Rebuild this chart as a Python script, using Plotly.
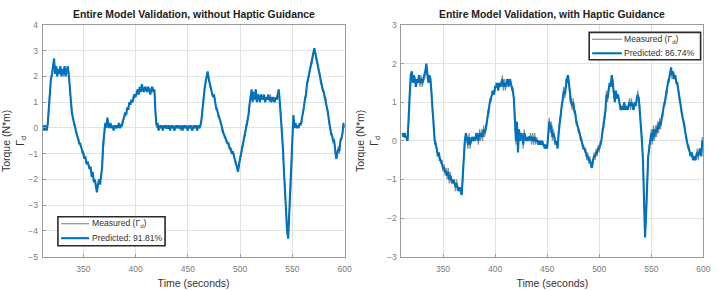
import plotly.graph_objects as go

# Time axis (seconds), one sample per second
time_s = list(range(311, 601))

# Left panel: without haptic guidance
left_measured = [
    0.0, 0.1, -0.1, 0.1, 0.0, 0.1, 0.9, 1.4, 2.0, 2.0,
    2.3, 2.6, 2.2, 2.3, 2.1, 2.2, 2.2, 2.3, 2.1, 2.2,
    2.0, 2.3, 2.1, 2.1, 2.3, 2.0, 1.7, 1.1, 0.7, 0.3,
    0.1, 0.1, -0.2, -0.2, -0.5, -0.5, -0.7, -0.7, -1.0, -0.9,
    -1.1, -1.2, -1.3, -1.4, -1.4, -1.5, -1.6, -1.8, -1.8, -2.0,
    -2.1, -2.2, -2.4, -2.3, -2.1, -2.1, -1.9, -1.4, -0.7, -0.1,
    0.1, 0.1, 0.3, 0.0, 0.1, 0.1, 0.1, 0.0, 0.0, 0.0,
    0.1, 0.0, 0.1, 0.1, 0.1, 0.0, 0.2, 0.2, 0.5, 0.5,
    0.6, 0.7, 0.8, 0.9, 1.0, 1.0, 1.1, 1.1, 1.2, 1.3,
    1.3, 1.4, 1.4, 1.5, 1.5, 1.6, 1.4, 1.5, 1.5, 1.6,
    1.5, 1.5, 1.4, 1.4, 1.6, 1.5, 1.5, 1.4, 0.7, 0.0,
    0.1, 0.0, 0.0, 0.1, 0.0, 0.0, 0.0, 0.1, 0.0, 0.1,
    0.1, 0.0, 0.0, 0.0, 0.1, 0.0, 0.0, 0.1, 0.0, 0.1,
    0.0, 0.1, -0.1, 0.0, 0.0, 0.0, 0.1, 0.0, 0.1, 0.0,
    0.0, 0.1, 0.0, 0.0, 0.1, 0.0, 0.1, 0.0, 0.0, 0.0,
    0.1, 0.0, 0.4, 0.8, 1.2, 1.6, 1.7, 2.1, 2.1, 2.0,
    1.6, 1.6, 1.3, 1.3, 1.2, 1.1, 0.7, 0.8, 0.4, 0.5,
    0.2, 0.2, -0.2, -0.1, -0.4, -0.3, -0.6, -0.5, -0.7, -0.7,
    -0.9, -0.9, -1.0, -1.0, -1.3, -1.3, -1.6, -1.6, -1.5, -1.1,
    -1.1, -0.7, -0.7, -0.3, -0.3, 0.1, 0.1, 0.6, 0.8, 1.3,
    1.4, 1.1, 1.3, 1.2, 1.4, 1.1, 1.2, 1.3, 1.1, 1.2,
    1.1, 1.2, 1.2, 1.1, 1.1, 1.2, 1.2, 1.0, 1.3, 1.1,
    1.1, 1.2, 1.1, 1.1, 1.2, 1.2, 1.4, 1.1, 0.6, -0.1,
    -0.9, -1.6, -2.8, -3.4, -4.1, -4.2, -3.4, -2.3, -1.9, -0.4,
    0.4, 0.1, 0.1, 0.1, 0.0, 0.1, 0.1, 0.2, 0.2, 0.6,
    0.7, 1.2, 1.2, 1.8, 1.8, 2.1, 2.2, 2.5, 2.5, 2.9,
    3.0, 3.0, 2.6, 2.6, 2.2, 2.2, 1.7, 1.7, 1.4, 1.5,
    1.1, 1.2, 0.7, 0.7, 0.2, 0.1, -0.3, -0.2, -0.6, -0.4,
    -1.0, -1.1, -1.1, -0.7, -1.0, -0.4, -0.5, -0.1, 0.1, 0.1,
]
left_predicted = [
    0.1, -0.1, 0.1, 0.0, -0.1, 0.2, 0.8, 1.5, 1.9, 2.1,
    2.4, 2.7, 2.1, 2.4, 2.0, 2.3, 2.1, 2.4, 2.0, 2.3,
    2.1, 2.4, 2.0, 2.2, 2.4, 2.1, 1.6, 1.0, 0.6, 0.4,
    0.2, 0.0, -0.1, -0.3, -0.4, -0.6, -0.6, -0.8, -0.9, -1.0,
    -1.2, -1.1, -1.4, -1.3, -1.5, -1.6, -1.5, -1.9, -1.7, -2.1,
    -2.0, -2.3, -2.5, -2.2, -2.0, -2.2, -1.8, -1.5, -0.6, -0.2,
    0.2, 0.0, 0.4, 0.1, 0.0, 0.2, 0.0, 0.1, -0.1, 0.1,
    0.0, 0.1, 0.0, 0.2, 0.0, 0.1, 0.1, 0.3, 0.4, 0.6,
    0.5, 0.8, 0.7, 1.0, 0.9, 1.1, 1.0, 1.2, 1.3, 1.2,
    1.4, 1.5, 1.3, 1.6, 1.4, 1.7, 1.5, 1.4, 1.6, 1.5,
    1.4, 1.6, 1.5, 1.3, 1.5, 1.6, 1.4, 1.5, 0.6, 0.1,
    0.2, -0.1, 0.1, 0.0, 0.1, -0.1, 0.1, 0.0, 0.1, 0.0,
    0.0, 0.1, -0.1, 0.1, 0.0, 0.1, -0.1, 0.0, 0.1, 0.0,
    0.1, 0.0, 0.0, 0.1, -0.1, 0.1, 0.0, 0.1, 0.0, -0.1,
    0.1, 0.0, 0.1, -0.1, 0.0, 0.1, 0.0, 0.1, -0.1, 0.1,
    0.0, 0.1, 0.3, 0.7, 1.3, 1.5, 1.8, 2.0, 2.2, 1.9,
    1.7, 1.5, 1.4, 1.2, 1.3, 1.0, 0.8, 0.7, 0.5, 0.4,
    0.3, 0.1, -0.1, -0.2, -0.3, -0.4, -0.5, -0.6, -0.6, -0.8,
    -0.8, -1.0, -0.9, -1.1, -1.2, -1.4, -1.5, -1.7, -1.4, -1.2,
    -1.0, -0.8, -0.6, -0.4, -0.2, 0.0, 0.2, 0.5, 0.9, 1.2,
    1.5, 1.0, 1.4, 1.1, 1.5, 1.0, 1.3, 1.2, 1.0, 1.3,
    1.2, 1.1, 1.3, 1.0, 1.2, 1.1, 1.3, 1.1, 1.2, 1.0,
    1.2, 1.1, 1.0, 1.2, 1.1, 1.3, 1.5, 1.0, 0.5, 0.0,
    -0.8, -1.7, -2.7, -3.5, -4.0, -4.3, -3.3, -2.4, -1.8, -0.5,
    0.5, 0.0, 0.2, 0.0, 0.1, 0.0, 0.2, 0.1, 0.3, 0.5,
    0.8, 1.1, 1.3, 1.7, 1.9, 2.0, 2.3, 2.4, 2.6, 2.8,
    3.1, 2.9, 2.7, 2.5, 2.3, 2.1, 1.8, 1.6, 1.5, 1.4,
    1.2, 1.1, 0.8, 0.6, 0.3, 0.0, -0.2, -0.3, -0.5, -0.5,
    -0.9, -1.2, -1.0, -0.8, -0.9, -0.5, -0.4, -0.2, 0.2, 0.0,
]

# Right panel: with haptic guidance
right_measured = [
    0.1, 0.2, 0.1, 0.2, 0.0, 0.1, 0.5, 1.4, 1.6, 1.7,
    1.6, 1.6, 1.5, 1.5, 1.5, 1.6, 1.6, 1.4, 1.7, 1.4,
    1.5, 1.6, 1.7, 1.9, 1.6, 1.6, 1.6, 1.5, 1.3, 0.7,
    0.5, -0.1, 0.0, -0.3, -0.3, -0.4, -0.4, -0.6, -0.5, -0.8,
    -0.6, -0.9, -0.7, -1.0, -0.7, -1.1, -0.8, -1.1, -1.0, -1.1,
    -1.0, -1.3, -1.0, -1.3, -1.2, -1.3, -1.2, -1.3, -1.0, -0.3,
    0.1, 0.1, 0.1, -0.2, 0.2, -0.2, 0.1, 0.0, 0.1, 0.0,
    0.1, 0.1, 0.2, -0.1, 0.3, 0.0, 0.3, 0.0, 0.4, 0.1,
    0.4, 0.4, 0.8, 0.7, 1.1, 1.0, 1.3, 1.2, 1.3, 1.3,
    1.5, 1.4, 1.4, 1.4, 1.5, 1.4, 1.7, 1.3, 1.6, 1.3,
    1.6, 1.5, 1.5, 1.5, 1.6, 1.3, 1.4, 1.0, 0.7, -0.1,
    0.4, -0.2, 0.2, 0.1, 0.1, 0.2, -0.2, 0.3, 0.0, 0.1,
    0.0, 0.1, 0.0, 0.2, -0.1, 0.2, -0.1, 0.2, -0.1, 0.1,
    -0.1, 0.0, -0.1, 0.0, -0.1, 0.0, -0.2, -0.1, -0.2, -0.1,
    0.1, 0.6, 0.2, 0.5, 0.0, 0.3, 0.0, 0.0, -0.1, -0.1,
    0.1, 0.6, 0.6, 1.0, 1.0, 1.4, 1.1, 1.6, 1.5, 1.6,
    1.5, 1.0, 1.1, 0.8, 1.1, 0.7, 0.8, 0.4, 0.5, 0.2,
    0.3, 0.0, 0.1, -0.2, -0.1, -0.3, -0.2, -0.5, -0.3, -0.6,
    -0.4, -0.7, -0.6, -0.6, -0.3, -0.5, -0.2, -0.4, -0.1, -0.3,
    0.0, -0.1, 0.3, 0.3, 0.6, 0.7, 1.3, 1.0, 1.4, 1.4,
    1.5, 1.6, 1.6, 1.1, 1.1, 1.2, 1.2, 1.1, 1.1, 0.8,
    0.9, 0.8, 0.9, 0.9, 0.9, 0.8, 0.9, 0.8, 1.1, 0.8,
    1.1, 0.8, 0.9, 0.9, 1.0, 1.0, 1.3, 1.0, 0.9, 0.3,
    0.1, -0.6, -1.4, -2.4, -2.0, -0.9, -0.5, -0.1, 0.0, 0.3,
    -0.1, 0.4, 0.0, 0.4, 0.1, 0.5, 0.2, 0.6, 0.3, 0.7,
    0.6, 1.0, 0.9, 1.3, 1.2, 1.6, 1.5, 1.7, 1.8, 1.6,
    1.7, 1.7, 1.6, 1.6, 1.4, 1.4, 1.0, 1.0, 0.7, 0.7,
    0.4, 0.4, 0.1, 0.1, -0.2, -0.1, -0.4, -0.3, -0.4, -0.4,
    -0.5, -0.4, -0.5, -0.2, -0.5, -0.2, -0.3, -0.3, 0.1, -0.2,
]
right_predicted = [
    0.2, 0.1, 0.2, 0.1, 0.1, 0.0, 0.6, 1.3, 1.7, 1.8,
    1.5, 1.7, 1.6, 1.4, 1.6, 1.5, 1.7, 1.5, 1.6, 1.5,
    1.6, 1.7, 1.8, 2.0, 1.7, 1.5, 1.7, 1.6, 1.2, 0.8,
    0.4, 0.0, -0.1, -0.2, -0.4, -0.3, -0.5, -0.5, -0.6, -0.7,
    -0.7, -0.8, -0.8, -0.9, -0.8, -1.0, -0.9, -1.0, -1.1, -1.0,
    -1.1, -1.2, -1.1, -1.2, -1.3, -1.2, -1.3, -1.4, -0.9, -0.4,
    0.0, 0.2, 0.0, -0.1, 0.1, -0.1, 0.0, 0.1, 0.0, 0.1,
    0.0, 0.2, 0.1, 0.0, 0.2, 0.1, 0.2, 0.1, 0.3, 0.2,
    0.3, 0.5, 0.7, 0.8, 1.0, 1.1, 1.2, 1.3, 1.2, 1.4,
    1.4, 1.5, 1.3, 1.5, 1.4, 1.5, 1.6, 1.4, 1.5, 1.4,
    1.5, 1.6, 1.4, 1.6, 1.5, 1.4, 1.3, 1.1, 0.6, 0.0,
    0.5, -0.3, 0.3, 0.0, 0.2, 0.1, -0.1, 0.2, 0.1, 0.0,
    0.1, 0.0, 0.1, 0.1, 0.0, 0.1, 0.0, 0.1, 0.0, 0.0,
    0.0, -0.1, 0.0, -0.1, 0.0, -0.1, -0.1, -0.2, -0.1, -0.2,
    0.2, 0.5, 0.3, 0.4, 0.1, 0.2, 0.1, -0.1, 0.0, -0.2,
    0.2, 0.5, 0.7, 0.9, 1.1, 1.3, 1.2, 1.5, 1.6, 1.7,
    1.4, 1.1, 1.0, 0.9, 1.0, 0.8, 0.7, 0.5, 0.4, 0.3,
    0.2, 0.1, 0.0, -0.1, -0.2, -0.2, -0.3, -0.4, -0.4, -0.5,
    -0.5, -0.6, -0.7, -0.5, -0.4, -0.4, -0.3, -0.3, -0.2, -0.2,
    -0.1, 0.0, 0.2, 0.4, 0.5, 0.8, 1.2, 1.1, 1.3, 1.5,
    1.4, 1.7, 1.5, 1.2, 1.0, 1.3, 1.1, 1.2, 1.0, 0.9,
    0.8, 0.9, 0.8, 1.0, 0.8, 0.9, 0.8, 0.9, 1.0, 0.9,
    1.0, 0.9, 0.8, 1.0, 0.9, 1.1, 1.2, 1.1, 0.8, 0.4,
    0.0, -0.5, -1.5, -2.5, -1.9, -1.0, -0.4, -0.2, 0.1, 0.2,
    0.0, 0.3, 0.1, 0.3, 0.2, 0.4, 0.3, 0.5, 0.4, 0.6,
    0.7, 0.9, 1.0, 1.2, 1.3, 1.5, 1.6, 1.8, 1.9, 1.7,
    1.8, 1.6, 1.7, 1.5, 1.5, 1.3, 1.1, 0.9, 0.8, 0.6,
    0.5, 0.3, 0.2, 0.0, -0.1, -0.2, -0.3, -0.4, -0.3, -0.5,
    -0.4, -0.5, -0.4, -0.3, -0.4, -0.3, -0.2, -0.4, 0.0, -0.1,
]

titles = ["Entire Model Validation, without Haptic Guidance",
          "Entire Model Validation, with Haptic Guidance"]
measured_label = "Measured (Γ<sub>d</sub>)"
predicted_labels = ["Predicted: 91.81%", "Predicted: 86.74%"]
x_ticks = [350, 400, 450, 500, 550, 600]
y_ticks_left = [-5, -4, -3, -2, -1, 0, 1, 2, 3, 4]
y_ticks_right = [-3, -2, -1, 0, 1, 2, 3]

W, H = 718, 291
BLUE = "#0072BD"
GRAY = "#8c8c8c"
FONT = "Liberation Sans, Arial, sans-serif"

fig = go.Figure()
panels = [("x", "y", left_measured, left_predicted),
          ("x2", "y2", right_measured, right_predicted)]
for i, (xa, ya, meas, pred) in enumerate(panels):
    fig.add_trace(go.Scatter(x=time_s, y=meas, mode="lines", name=measured_label,
                             line=dict(color=GRAY, width=1.2), xaxis=xa, yaxis=ya,
                             showlegend=False))
    fig.add_trace(go.Scatter(x=time_s, y=pred, mode="lines", name=predicted_labels[i],
                             line=dict(color=BLUE, width=2.1), xaxis=xa, yaxis=ya,
                             showlegend=False))

axis_common = dict(showline=True, linecolor="#9a9a9a", linewidth=1, mirror=True,
                   showgrid=True, gridcolor="#e3e3e3", gridwidth=1,
                   zeroline=False, ticks="inside", ticklen=3, tickcolor="#9a9a9a",
                   tickfont=dict(family=FONT, size=8.5, color="#7a7a7a"))

ytitle = dict(text="Torque (N*m)<br>Γ<sub>d</sub>",
              font=dict(family=FONT, size=10.5, color="#333333"), standoff=6)
xtitle = dict(text="Time (seconds)", font=dict(family=FONT, size=10.5, color="#333333"),
              standoff=6)

XD1 = [43 / W, 348 / W]
XD2 = [405.3 / W, 710.3 / W]
YD = [1 - 260.7 / H, 1 - 20.7 / H]

fig.update_layout(
    width=W, height=H,
    margin=dict(l=0, r=0, t=0, b=0),
    paper_bgcolor="white", plot_bgcolor="white",
    font=dict(family=FONT),
    showlegend=False,
    xaxis=dict(domain=XD1, range=[311, 600], tickvals=x_ticks, anchor="y",
               title=xtitle, ticklabelstandoff=4, **axis_common),
    yaxis=dict(domain=YD, range=[-5, 4], tickvals=y_ticks_left, anchor="x",
               title=ytitle, ticklabelstandoff=2, **axis_common),
    xaxis2=dict(domain=XD2, range=[310, 600], tickvals=x_ticks, anchor="y2",
                title=xtitle, ticklabelstandoff=4, **axis_common),
    yaxis2=dict(domain=YD, range=[-3, 3], tickvals=y_ticks_right, anchor="x2",
                title=ytitle, ticklabelstandoff=2, **axis_common),
)

# Titles
for title, xd in zip(titles, [XD1, XD2]):
    fig.add_annotation(text="<b>" + title + "</b>", x=(xd[0] + xd[1]) / 2,
                       y=1 - 10 / H, xref="paper", yref="paper", showarrow=False,
                       xanchor="center", yanchor="middle",
                       font=dict(family=FONT, size=10.4, color="#222222"))


# Hand-drawn legend boxes (pixel boxes converted to paper coordinates)
def px(x):
    return x / W


def py(y):
    return 1 - y / H


def add_legend(box, line_x, text_x, rows, pred_label):
    x0, y0, x1, y1 = box
    fig.add_shape(type="rect", xref="paper", yref="paper",
                  x0=px(x0), x1=px(x1), y0=py(y1), y1=py(y0),
                  line=dict(color="#2a2a2a", width=1.6), fillcolor="white",
                  layer="above")
    styles = [(GRAY, 1.2, measured_label), (BLUE, 2.1, pred_label)]
    for (col, wid, label), ry in zip(styles, rows):
        fig.add_shape(type="line", xref="paper", yref="paper",
                      x0=px(line_x[0]), x1=px(line_x[1]), y0=py(ry), y1=py(ry),
                      line=dict(color=col, width=wid), layer="above")
        fig.add_annotation(text=label, x=px(text_x), y=py(ry), xref="paper",
                           yref="paper", showarrow=False, xanchor="left",
                           yanchor="middle",
                           font=dict(family=FONT, size=8.6, color="#333333"))


add_legend((58.5, 219.3, 166.7, 249.3), (61.7, 90), 90.5, (226.5, 241.5),
           predicted_labels[0])
add_legend((595, 28.3, 707.5, 56.7), (598, 628), 628.5, (35.5, 50),
           predicted_labels[1])

fig.write_html("out.html")
